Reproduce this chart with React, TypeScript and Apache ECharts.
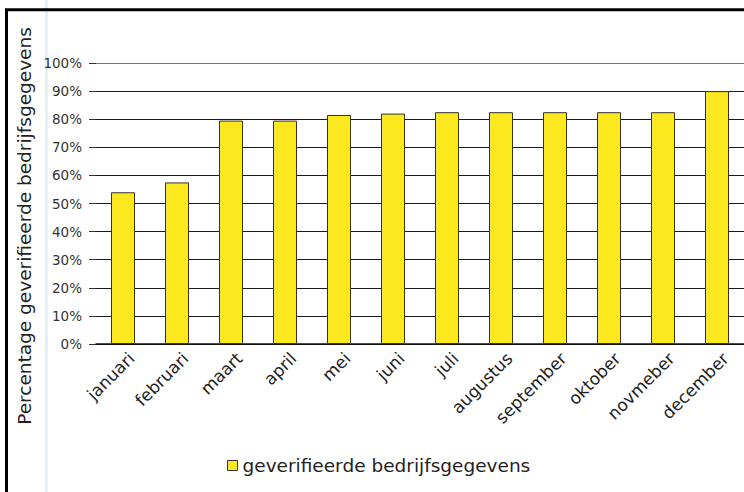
import React, { useEffect, useRef } from "react";
import * as echarts from "echarts";

const categories = ["januari", "februari", "maart", "april", "mei", "juni", "juli", "augustus", "september", "oktober", "novmeber", "december"];
const values = [54, 57.5, 79.5, 79.5, 81.5, 82, 82.5, 82.5, 82.5, 82.5, 82.5, 90];
const seriesName = "geverifieerde bedrijfsgegevens";
const yAxisTitle = "Percentage geverifieerde bedrijfsgegevens";
const yMin = 0;
const yMax = 100;
const yStep = 10;

const FONT = "'DejaVu Sans', sans-serif";

export default function App() {
  const ref = useRef<HTMLDivElement>(null);
  useEffect(() => {
    if (!ref.current) return;
    const chart = echarts.init(ref.current, null, { renderer: "svg" });
    const splitColors = Array.from({ length: 10 }, () => "#1a1a1a").concat(["#777"]);
    chart.setOption({
      animation: false,
      backgroundColor: "#fff",
      textStyle: { fontFamily: FONT },
      grid: { left: 96, top: 63, width: 650, bottom: 148, containLabel: false },
      legend: {
        left: 222,
        top: 451,
        icon: "rect",
        itemWidth: 10,
        itemHeight: 10,
        itemGap: 6,
        itemStyle: { borderColor: "#333", borderWidth: 1 },
        textStyle: { fontSize: 18.5, color: "#222", fontFamily: FONT },
        data: [seriesName],
      },
      xAxis: {
        type: "category",
        data: categories,
        axisLine: { show: true, lineStyle: { color: "#111", width: 1.5 } },
        axisTick: { show: false },
        axisLabel: {
          rotate: 45,
          fontSize: 17,
          color: "#222",
          margin: 3,
          interval: 0,
          verticalAlign: "top",
          lineHeight: 24,
          fontFamily: FONT,
        },
      },
      yAxis: {
        type: "value",
        min: yMin,
        max: yMax,
        interval: yStep,
        axisLine: { show: false },
        axisTick: { show: true, length: 7, lineStyle: { color: "#333" } },
        axisLabel: { formatter: "{value}%", fontSize: 13.5, color: "#333", margin: 14, fontFamily: FONT },
        splitLine: { show: true, lineStyle: { color: splitColors, width: 1 } },
      },
      series: [
        {
          name: seriesName,
          type: "bar",
          data: values,
          barWidth: 24,
          itemStyle: { color: "#FCE81E", borderColor: "#333", borderWidth: 1 },
        },
      ],
      graphic: [
        {
          type: "line",
          shape: { x1: 46.5, y1: 0, x2: 46.5, y2: 492 },
          style: { stroke: "#dbe8f0", lineWidth: 2 },
          z: 0,
        },
        {
          type: "rect",
          shape: { x: 6.5, y: 9.8, width: 800, height: 600 },
          style: { fill: "none", stroke: "#000", lineWidth: 3 },
          z: 10,
        },
        {
          type: "text",
          x: 24,
          y: 226,
          rotation: Math.PI / 2,
          style: {
            text: yAxisTitle,
            fontSize: 18.5,
            fill: "#222",
            fontFamily: FONT,
            align: "center",
            verticalAlign: "middle",
          },
          z: 10,
        },
      ],
    });
    return () => chart.dispose();
  }, []);
  return (
    <div
      ref={ref}
      style={{ position: "absolute", left: 0, top: 0, width: 744, height: 492 }}
    />
  );
}
